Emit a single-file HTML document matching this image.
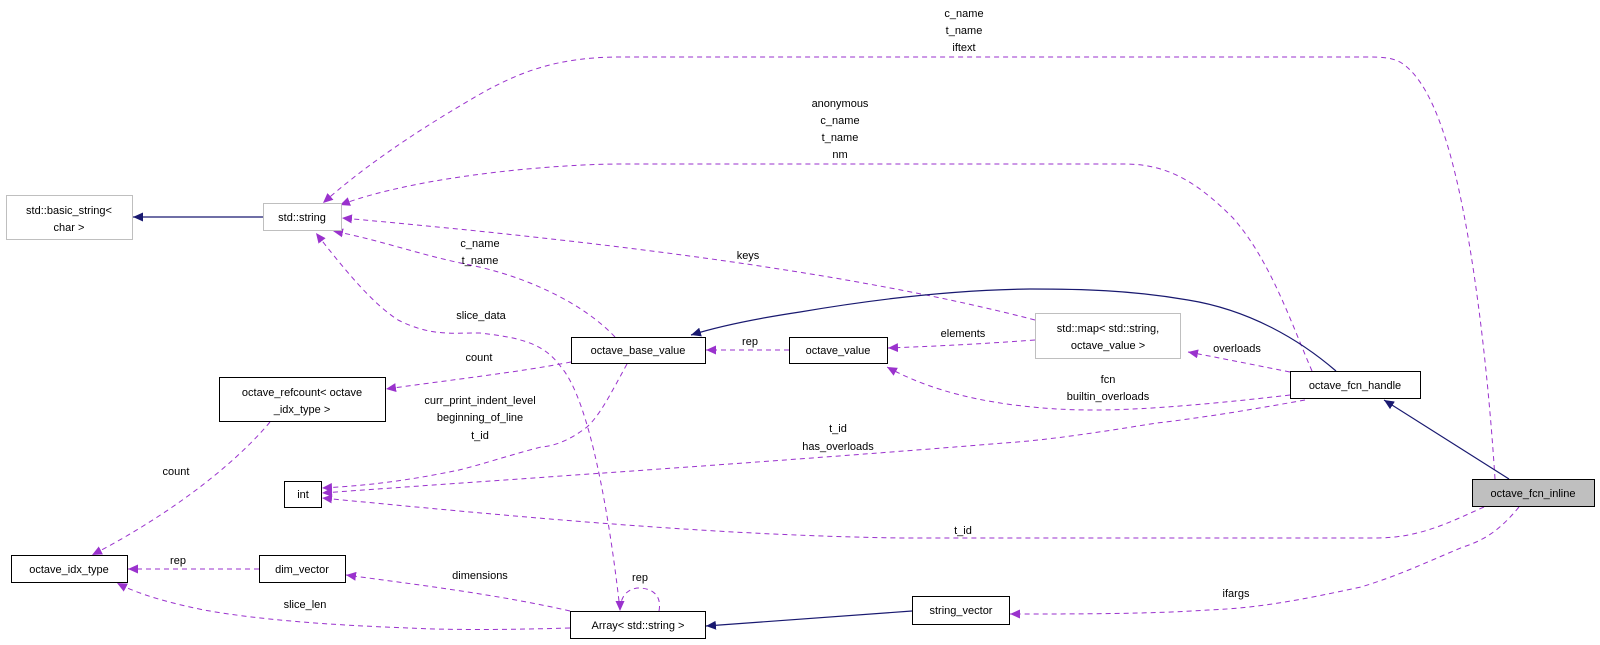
<!DOCTYPE html>
<html><head><meta charset="utf-8"><style>
html,body{margin:0;padding:0;background:#fff;}
svg{display:block;}
text{font-family:"Liberation Sans",Arial,sans-serif;font-size:11px;fill:#000;}
</style></head><body>
<svg width="1600" height="645" viewBox="0 0 1600 645" xmlns="http://www.w3.org/2000/svg">
<defs>
<marker id="p" markerWidth="11" markerHeight="9" refX="10" refY="4.5" orient="auto" markerUnits="userSpaceOnUse"><path d="M0,0 L10,4.5 L0,9 z" fill="#9a32cd"/></marker>
<marker id="n" markerWidth="11" markerHeight="9" refX="10" refY="4.5" orient="auto" markerUnits="userSpaceOnUse"><path d="M0,0 L10,4.5 L0,9 z" fill="#191970"/></marker>
</defs>
<g fill="none" stroke="#9a32cd" stroke-width="1" stroke-dasharray="5,4">
<path marker-end="url(#p)" d="M615,337 C580,300 520,275 470,265 C420,255 380,240 333,231"/>
<path marker-end="url(#p)" d="M1035,320 C900,285 700,250 342,218"/>
<path marker-end="url(#p)" d="M620,610 C610,520 590,400 561,367 C545,345 525,338 480,333 C450,333 430,336 398,320 C380,308 360,290 316,233"/>
<path marker-end="url(#p)" d="M571,362 C520,372 450,380 386,389"/>
<path marker-end="url(#p)" d="M627,364 C610,395 600,415 587,427 C570,440 555,446 541,447 C510,455 480,465 459,470 C420,478 380,485 322,488"/>
<path marker-end="url(#p)" d="M1305,400 C1250,410 1200,418 1157,423 C1100,432 1050,440 1004,443 C800,460 500,480 322,493"/>
<path marker-end="url(#p)" d="M1484,507 C1450,522 1420,538 1376,538 L900,538 C700,535 500,515 322,498"/>
<path marker-end="url(#p)" d="M270,422 C230,470 160,520 92,555"/>
<path marker-end="url(#p)" d="M259,569 L128,569"/>
<path marker-end="url(#p)" d="M570,628 C500,630 450,630 408,628 C330,625 260,620 204,610 C170,603 140,595 117,583"/>
<path marker-end="url(#p)" d="M570,611 C500,595 420,585 346,575"/>
<path marker-end="url(#p)" d="M659,611 C662,595 652,588 638,588 C626,589 620,598 620,611"/>
<path marker-end="url(#p)" d="M1519,507 C1500,530 1485,540 1463,547 C1420,565 1400,575 1361,587 C1300,600 1260,608 1208,610 C1150,614 1080,614 1010,614"/>
<path marker-end="url(#p)" d="M789,350 L706,350"/>
<path marker-end="url(#p)" d="M1035,340 C980,344 940,346 888,348"/>
<path marker-end="url(#p)" d="M1290,372 C1250,364 1220,358 1188,352"/>
<path marker-end="url(#p)" d="M1290,395 C1230,402 1150,410 1096,410 C1060,410 1040,408 1014,405 C960,398 920,385 887,367"/>
<path marker-end="url(#p)" d="M1312,371 C1290,320 1270,260 1233,218 C1200,185 1170,164 1125,164 L621,164 C560,164 420,175 340,205"/>
<path marker-end="url(#p)" d="M1495,479 C1490,400 1480,300 1465,220 C1450,140 1430,80 1400,62 C1390,57 1380,57 1366,57 L621,57 C560,57 520,70 470,100 C410,135 360,170 323,203"/>
</g>
<g fill="none" stroke="#191970" stroke-width="1.2">
<path marker-end="url(#n)" d="M263,217 L133,217"/>
<path marker-end="url(#n)" d="M912,611 L706,626"/>
<path marker-end="url(#n)" d="M1336,371 C1300,340 1250,310 1188,300 C1130,290 1080,289 1030,289 C950,290 870,300 800,312 C760,318 720,326 691,335"/>
<path marker-end="url(#n)" d="M1509,479 L1384,400"/>
</g>
<g stroke-width="1">
<rect x="6.5" y="195.5" width="126" height="44" fill="#fff" stroke="#bfbfbf"/>
<rect x="263.5" y="203.5" width="78" height="27" fill="#fff" stroke="#bfbfbf"/>
<rect x="1035.5" y="313.5" width="145" height="45" fill="#fff" stroke="#bfbfbf"/>
<rect x="571.5" y="337.5" width="134" height="26" fill="#fff" stroke="#000"/>
<rect x="219.5" y="377.5" width="166" height="44" fill="#fff" stroke="#000"/>
<rect x="284.5" y="481.5" width="37" height="26" fill="#fff" stroke="#000"/>
<rect x="11.5" y="555.5" width="116" height="27" fill="#fff" stroke="#000"/>
<rect x="259.5" y="555.5" width="86" height="27" fill="#fff" stroke="#000"/>
<rect x="570.5" y="611.5" width="135" height="27" fill="#fff" stroke="#000"/>
<rect x="789.5" y="337.5" width="98" height="26" fill="#fff" stroke="#000"/>
<rect x="1290.5" y="371.5" width="130" height="27" fill="#fff" stroke="#000"/>
<rect x="1472.5" y="479.5" width="122" height="27" fill="#bfbfbf" stroke="#000"/>
<rect x="912.5" y="596.5" width="97" height="28" fill="#fff" stroke="#000"/>
</g>
<g text-anchor="middle">
<text x="69" y="214">std::basic_string&lt;</text><text x="69" y="231">char &gt;</text>
<text x="302" y="221">std::string</text>
<text x="1108" y="332">std::map&lt; std::string,</text><text x="1108" y="349">octave_value &gt;</text>
<text x="638" y="354">octave_base_value</text>
<text x="302" y="396">octave_refcount&lt; octave</text><text x="302" y="413">_idx_type &gt;</text>
<text x="303" y="498">int</text>
<text x="69" y="573">octave_idx_type</text>
<text x="302" y="573">dim_vector</text>
<text x="638" y="629">Array&lt; std::string &gt;</text>
<text x="838" y="354">octave_value</text>
<text x="1355" y="389">octave_fcn_handle</text>
<text x="1533" y="497">octave_fcn_inline</text>
<text x="961" y="614">string_vector</text>
<text x="964" y="17">c_name</text><text x="964" y="34">t_name</text><text x="964" y="51">iftext</text>
<text x="840" y="107">anonymous</text><text x="840" y="124">c_name</text><text x="840" y="141">t_name</text><text x="840" y="158">nm</text>
<text x="480" y="247">c_name</text><text x="480" y="264">t_name</text>
<text x="748" y="259">keys</text>
<text x="481" y="319">slice_data</text>
<text x="479" y="361">count</text>
<text x="750" y="345">rep</text>
<text x="963" y="337">elements</text>
<text x="1237" y="352">overloads</text>
<text x="1108" y="383">fcn</text><text x="1108" y="400">builtin_overloads</text>
<text x="480" y="404">curr_print_indent_level</text><text x="480" y="421">beginning_of_line</text><text x="480" y="439">t_id</text>
<text x="838" y="432">t_id</text><text x="838" y="450">has_overloads</text>
<text x="176" y="475">count</text>
<text x="963" y="534">t_id</text>
<text x="178" y="564">rep</text>
<text x="480" y="579">dimensions</text>
<text x="640" y="581">rep</text>
<text x="305" y="608">slice_len</text>
<text x="1236" y="597">ifargs</text>
</g>
</svg>
</body></html>
